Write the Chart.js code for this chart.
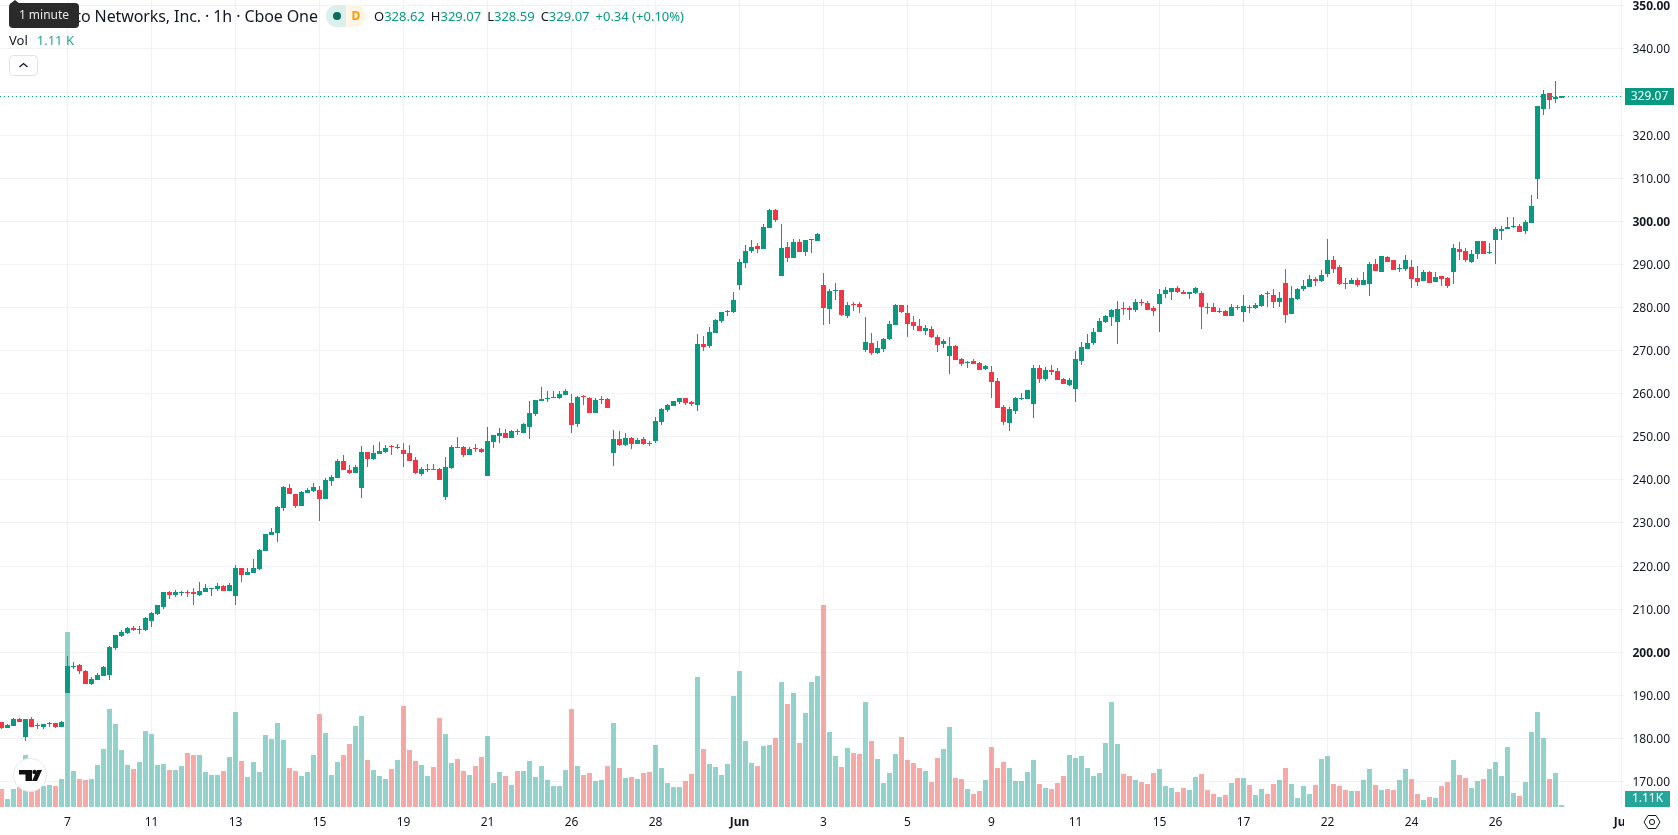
<!DOCTYPE html>
<html>
<head>
<meta charset="utf-8">
<title>Palo Alto Networks, Inc. 1h</title>
<script src="https://cdn.jsdelivr.net/npm/chart.js@4/dist/chart.umd.min.js"></script>
<style>
    html, body { margin: 0; padding: 0; background: #fff; }
    body { width: 1678px; height: 835px; overflow: hidden; position: relative; font-family: "Noto Sans", sans-serif; color: #131722; }
    canvas { position: absolute; left: 0; top: 0; }
    .abs { position: absolute; white-space: nowrap; }
    #title { left: 25px; top: 4px; font-size: 16px; line-height: 24px; letter-spacing: -0.1px; }
    #tooltip { left: 9px; top: 3px; width: 70px; height: 25px; line-height: 24px; background: #2a2a2a; color: #e8e8e8; font-size: 12px; text-align: center; border-radius: 4px; }
    #tooltip-arrow { left: 10px; top: 0; width: 0; height: 0; border-left: 5px solid transparent; border-right: 5px solid transparent; border-bottom: 4px solid #2a2a2a; }
    #ohlc { left: 374px; top: 6px; font-size: 13px; line-height: 20px; }
    #ohlc b { font-weight: 400; color: #089981; margin-right: 6px; }
    #vol { left: 9px; top: 30px; font-size: 13px; line-height: 20px; }
    #vol span { color: #26a69a; margin-left: 9px; }
    #pill-a { left: 326px; top: 5px; width: 20px; height: 22px; background: #daf0ec; border-radius: 11px 0 0 11px; }
    #pill-a i { position: absolute; left: 7px; top: 7px; width: 8px; height: 8px; border-radius: 50%; background: #0c6b5e; }
    #pill-d { left: 346px; top: 5px; width: 20px; height: 22px; line-height: 22px; background: #fff5e6; border-radius: 0 11px 11px 0; color: #ff9800; font-size: 12px; font-weight: 700; text-align: center; }
    #toggle { left: 9px; top: 55px; width: 27px; height: 19px; border: 1px solid #e0e3eb; border-radius: 4px; background: #fff; }
    #logo { left: 13px; top: 758px; width: 34px; height: 34px; }
    #corner { left: 1624px; top: 808px; width: 54px; height: 27px; background: #fff; }
</style>
</head>
<body>
<canvas id="myChart" width="1678" height="835"></canvas>

<div class="abs" id="title">Palo Alto Networks, Inc. · 1h · Cboe One</div>
<div class="abs" id="tooltip-arrow"></div>
<div class="abs" id="tooltip">1 minute</div>
<div class="abs" id="pill-a"><i></i></div>
<div class="abs" id="pill-d">D</div>
<div class="abs" id="ohlc">O<b>328.62</b>H<b>329.07</b>L<b>328.59</b>C<b>329.07</b><b>+0.34 (+0.10%)</b></div>
<div class="abs" id="vol">Vol<span>1.11 K</span></div>
<div class="abs" id="toggle">
    <svg width="27" height="19" viewBox="0 0 27 19"><path d="M9.5 11 L13.5 7.5 L17.5 11" fill="none" stroke="#131722" stroke-width="1.3"/></svg>
</div>
<svg class="abs" id="logo" viewBox="0 0 34 34">
    <circle cx="17" cy="17" r="16.5" fill="#fff" stroke="#e6e8ec"/>
    <path d="M6 12h13v11h-6.5v-6.5H6z" fill="#111"/>
    <circle cx="21.5" cy="14" r="2.2" fill="#111"/>
    <path d="M24 12h5l-5 11h-5z" fill="#111"/>
</svg>
<div class="abs" id="corner">
    <svg width="54" height="27" viewBox="0 0 54 27"><path d="M20 14 L24 7.5 H32 L36 14 L32 20.5 H24 Z" fill="none" stroke="#131722" stroke-width="1"/><circle cx="28" cy="14" r="2.6" fill="none" stroke="#131722" stroke-width="1"/></svg>
</div>

<script>
// hourly candles, oldest first
const opens = [
    183.8,182.5,183.0,184.45,180.4,184.5,183.2,182.7,183.5,183.5,
    182.7,190.6,196.6,197.0,195.7,192.65,193.6,194.5,194.75,201.0,
    203.8,204.5,205.6,205.2,205.2,207.3,208.9,210.5,214.0,213.3,
    213.8,214.0,214.0,213.3,214.0,214.7,214.7,215.4,214.2,213.1,
    219.6,217.9,218.4,219.3,223.5,227.2,227.7,233.5,238.1,236.7,
    233.9,236.95,237.4,237.6,235.55,239.75,240.4,244.35,242.3,241.6,
    238.1,246.45,244.8,246.0,246.45,247.8,247.4,246.9,246.2,244.6,
    241.35,242.3,242.5,242.5,236.0,242.75,247.6,247.6,245.75,247.4,
    247.15,240.9,248.8,250.15,250.85,249.7,251.3,250.85,252.25,255.3,
    258.3,258.75,259.0,259.0,259.7,257.8,253.0,259.45,259.0,255.5,
    258.5,258.75,246.2,249.5,248.1,249.7,248.3,249.4,248.65,248.95,
    253.45,256.2,257.15,258.05,259.0,258.05,257.4,271.5,271.05,274.1,
    276.85,278.95,278.95,285.2,290.3,293.1,294.3,293.55,298.45,302.6,
    287.3,294.05,291.5,295.2,292.85,295.65,295.45,285.2,279.65,283.8,
    284.05,278.0,280.8,280.8,270.15,271.8,269.45,270.35,272.7,275.95,
    280.6,278.7,276.65,275.7,274.55,275.0,273.15,271.5,268.75,271.05,
    268.05,267.1,267.6,267.1,265.7,265.05,262.95,256.9,253.2,256.0,
    258.8,258.8,257.6,265.95,263.4,265.5,265.3,263.4,262.05,261.1,
    267.6,270.35,271.75,274.3,276.65,277.8,276.65,279.9,279.9,279.4,
    281.3,281.05,279.9,280.8,283.15,283.6,284.5,283.6,283.15,283.35,
    283.35,280.1,280.1,278.95,279.2,278.0,280.1,278.95,280.1,279.9,
    280.35,283.3,282.9,281.3,285.7,278.5,282.0,284.3,284.75,286.6,
    286.15,287.75,291.0,289.4,285.7,285.45,286.4,285.2,285.45,290.1,
    288.2,291.7,291.0,288.95,288.95,289.4,286.85,286.15,288.2,285.9,
    287.3,286.85,288.2,293.55,293.1,290.55,292.4,295.4,292.6,295.65,
    297.75,298.2,298.65,298.9,297.75,299.6,309.8,326.05,329.75,328.35,
    328.62
];
const highs = [
    183.9,183.3,184.8,184.7,184.6,185.0,183.5,183.4,183.9,183.5,
    184.0,199.1,197.75,197.3,195.9,194.3,195.2,196.8,201.5,204.1,
    205.2,205.9,206.1,206.1,208.2,209.3,211.0,214.0,214.2,214.45,
    214.2,214.45,214.9,216.3,215.85,214.95,216.1,215.6,216.1,220.3,
    219.6,219.6,221.65,224.0,227.5,228.85,234.0,238.6,239.05,236.7,
    237.4,238.1,239.3,238.6,240.4,241.1,244.8,245.75,243.45,243.45,
    247.85,246.45,248.1,248.8,248.1,248.1,248.3,248.55,248.1,245.3,
    243.0,243.7,243.7,242.75,245.3,248.1,249.95,247.85,247.6,248.3,
    247.4,252.25,250.4,252.0,251.8,251.55,251.8,253.2,258.3,258.5,
    261.5,260.6,260.6,260.6,261.05,259.9,259.45,259.7,259.2,259.0,
    259.45,259.0,251.55,251.3,250.85,249.95,249.7,249.9,249.1,254.6,
    256.7,257.6,258.3,259.1,259.0,258.3,273.85,273.4,275.5,277.35,
    279.0,279.4,283.6,291.25,294.5,295.65,295.0,299.4,302.85,302.85,
    299.4,295.2,295.9,295.9,295.65,295.9,297.3,288.0,284.3,285.7,
    284.05,281.3,281.3,281.3,277.8,274.1,272.2,272.9,276.9,280.8,
    280.6,280.6,278.0,277.35,275.95,275.7,273.6,272.7,273.15,271.3,
    268.3,267.6,268.05,267.35,266.65,266.4,263.65,257.4,256.9,259.25,
    260.15,260.85,266.65,266.65,266.2,266.65,265.95,263.65,263.65,269.9,
    272.0,273.85,275.25,277.6,278.25,279.65,281.5,281.25,280.35,282.0,
    282.0,281.5,280.35,284.3,284.75,284.5,285.0,284.05,283.6,284.75,
    283.85,281.05,281.05,279.9,279.4,280.8,280.6,282.9,280.6,281.05,
    283.15,283.85,284.3,283.6,288.95,285.0,284.5,286.4,287.55,287.1,
    288.7,295.9,291.95,289.85,286.85,286.85,286.85,288.2,290.55,291.25,
    291.95,291.95,291.0,290.1,292.15,291.0,289.6,288.7,288.45,288.2,
    287.3,287.1,294.75,295.2,293.8,293.35,295.4,295.4,295.0,298.65,
    298.9,301.0,301.0,299.35,300.3,306.1,326.75,330.45,329.75,332.55,
    329.07
];
const lows = [
    182.2,182.5,182.9,183.8,179.5,182.6,182.2,182.2,182.7,182.4,
    182.7,190.6,196.1,195.0,192.6,192.4,193.6,194.5,193.6,200.5,
    203.5,204.2,205.0,204.2,205.0,205.9,208.7,210.0,212.4,212.85,
    213.05,212.85,211.0,213.05,214.0,213.05,214.2,214.2,214.2,211.0,
    216.3,217.9,218.4,219.1,223.5,227.2,225.6,232.8,236.7,233.5,
    233.9,236.95,237.2,230.45,235.55,238.6,240.4,242.3,241.35,241.6,
    235.8,243.0,244.6,246.0,246.2,245.75,247.15,243.0,244.35,241.35,
    240.9,241.8,242.3,240.0,235.3,242.5,247.4,245.3,245.75,246.45,
    246.2,240.9,247.4,248.55,249.7,249.7,250.4,250.85,249.5,254.8,
    258.3,258.05,259.0,258.75,259.7,250.85,252.25,257.35,255.5,255.5,
    257.6,256.65,243.2,247.85,247.85,247.15,248.3,248.0,247.95,248.65,
    252.75,255.75,257.15,257.6,257.4,257.15,256.0,269.9,270.6,274.1,
    276.4,278.0,278.7,284.05,289.2,292.65,292.65,293.55,298.45,299.85,
    287.3,290.55,291.5,292.85,291.95,292.65,295.45,275.95,276.2,281.75,
    278.0,277.55,279.2,278.7,269.65,269.0,269.2,269.65,272.45,275.95,
    278.7,273.15,274.75,274.55,273.6,272.9,269.65,270.6,264.55,267.8,
    266.4,266.0,266.9,265.5,265.5,259.0,256.7,252.75,251.35,255.3,
    258.55,258.8,254.4,262.5,262.95,264.35,263.2,262.25,261.8,258.05,
    266.65,270.35,271.3,274.3,276.4,275.7,271.55,278.25,277.1,278.95,
    280.35,279.4,278.0,274.3,282.2,281.75,283.35,283.15,282.0,283.15,
    275.0,278.5,278.95,278.7,278.0,278.0,279.4,276.65,278.7,279.65,
    280.1,280.1,279.9,280.1,276.4,278.5,281.75,283.85,284.75,285.0,
    285.9,287.1,288.0,285.2,284.3,285.45,284.75,285.2,282.65,288.45,
    288.2,290.55,288.7,288.2,288.45,284.5,285.0,286.15,285.7,285.9,
    285.0,284.5,285.45,291.0,290.55,290.3,291.25,292.4,292.4,290.1,
    295.65,298.2,298.45,297.5,297.05,299.6,305.15,324.65,326.05,327.45,
    328.59
];
const closes = [
    182.5,183.1,184.5,183.8,184.5,182.7,183.0,183.4,183.7,182.7,
    183.8,196.8,196.8,195.7,192.65,193.8,194.75,196.6,201.2,204.0,
    204.7,205.6,205.2,205.3,208.0,209.1,211.0,214.0,213.3,214.0,
    214.0,213.8,213.5,214.2,214.9,214.9,215.4,214.2,215.6,219.6,
    217.9,218.6,219.6,223.7,227.45,227.9,233.7,238.35,236.7,233.95,
    237.2,237.6,238.3,235.55,240.0,240.65,244.35,242.3,241.6,243.0,
    246.45,244.8,246.2,246.7,247.4,247.6,247.6,246.0,244.35,241.6,
    242.5,242.5,242.3,240.0,243.0,247.6,247.4,245.75,247.15,247.15,
    246.45,249.0,250.4,250.85,249.7,251.3,251.1,253.0,255.5,258.5,
    258.75,259.0,259.2,259.9,260.6,252.7,259.2,259.2,255.5,258.5,
    258.75,256.65,249.5,248.1,249.7,248.3,249.25,248.25,248.4,253.65,
    256.45,257.4,258.3,259.0,257.85,257.6,271.5,270.85,274.3,277.1,
    278.95,279.15,281.75,290.55,293.1,294.05,293.55,298.7,302.6,300.3,
    293.8,291.5,295.2,292.85,295.65,295.9,297.05,279.9,283.8,284.05,
    278.25,280.6,280.6,280.1,272.0,269.45,270.6,272.7,276.2,280.6,
    278.95,276.2,275.7,274.55,275.25,273.15,271.3,272.2,271.05,267.8,
    266.9,267.3,266.9,265.5,266.4,262.7,256.7,253.45,256.45,259.0,
    259.0,260.85,265.95,263.4,265.5,265.05,263.2,262.25,263.2,268.05,
    270.85,271.75,274.3,276.9,278.0,279.4,279.65,279.65,279.4,281.3,
    281.05,279.4,279.2,283.15,284.05,284.5,283.6,283.15,283.6,284.5,
    280.1,279.9,278.95,279.2,278.0,280.1,279.9,280.35,279.9,280.6,
    282.9,283.1,281.3,282.2,278.25,282.2,284.3,285.0,286.6,286.15,
    287.55,291.0,288.95,285.45,285.45,286.4,285.2,286.4,290.1,288.45,
    291.95,290.55,288.7,289.2,291.0,286.6,285.9,288.2,285.7,287.1,
    286.6,285.0,293.8,292.85,291.0,292.4,295.4,292.4,292.85,298.2,
    298.2,298.65,298.9,297.5,299.8,303.55,326.75,329.5,328.1,328.73,
    329.07
];
// volume in thousands
const volumes = [
    10.0,4.4,10.0,11.3,28.9,9.4,10.4,11.7,12.2,11.7,
    15.5,97.1,20.0,15.5,15.0,15.5,23.3,32.2,54.4,46.1,
    31.6,23.3,21.1,25.0,42.2,40.5,23.3,23.9,20.5,20.5,
    22.8,30.0,28.9,28.9,19.4,17.8,17.8,20.0,27.8,52.7,
    25.5,16.7,25.0,19.4,40.0,37.7,46.6,37.2,21.6,20.0,
    17.2,19.4,28.9,51.6,41.1,17.8,25.0,28.9,35.0,45.0,
    50.5,26.1,20.5,17.2,15.5,21.1,26.1,56.1,31.6,25.5,
    23.3,17.2,22.2,49.4,40.5,24.4,26.6,20.0,17.8,22.8,
    27.8,39.4,13.3,19.4,17.2,12.2,20.0,20.0,25.5,16.7,
    22.8,15.0,11.7,11.7,20.5,54.4,22.8,17.8,18.9,14.4,
    15.0,22.8,46.6,21.6,16.1,16.7,15.5,18.9,19.4,34.4,
    21.6,13.3,11.1,11.1,14.4,18.3,72.2,32.2,23.9,22.2,
    17.8,23.9,61.6,75.5,36.6,24.4,22.8,33.9,34.4,38.3,
    69.4,57.2,63.3,35.5,52.2,69.4,72.7,112.1,41.6,28.3,
    22.2,32.7,30.0,29.4,58.3,36.6,26.6,13.3,18.9,29.4,
    38.9,26.1,24.4,21.6,20.0,13.9,27.2,32.2,44.4,16.1,
    15.5,10.0,7.2,8.9,15.0,33.3,21.6,25.0,21.6,14.4,
    14.4,19.4,26.1,12.8,10.5,10.0,13.3,17.2,28.9,27.2,
    28.3,21.6,17.2,18.9,35.5,58.3,35.0,18.3,17.2,15.0,
    13.9,12.8,18.9,21.1,11.7,10.5,8.3,10.5,9.4,16.7,
    18.3,9.4,7.2,5.6,6.7,13.3,16.1,16.1,12.2,6.7,
    10.0,7.2,12.8,15.0,21.6,12.8,5.0,11.7,7.2,12.2,
    26.6,28.3,12.8,11.7,9.4,8.9,8.9,15.0,21.1,12.2,
    9.4,10.0,9.4,15.0,21.1,15.5,7.2,3.9,5.6,5.0,
    11.7,13.9,26.1,17.8,16.1,10.5,14.4,15.5,21.1,25.0,
    17.2,33.3,7.8,6.1,13.9,41.6,52.7,38.3,15.5,18.9,
    1.11
];

const dayTicks = [11, 25, 39, 53, 67, 81, 95, 109, 123, 137, 151, 165, 179, 193, 207, 221, 235, 249, 270];
const dayLabels = ['7', '11', '13', '15', '19', '21', '26', '28', 'Jun', '3', '5', '9', '11', '15', '17', '22', '24', '26', 'Jul'];
const monthLabels = ['Jun', 'Jul'];
const priceTicks = [170, 180, 190, 200, 210, 220, 230, 240, 250, 260, 270, 280, 290, 300, 310, 320, 330, 340, 350];
const boldPrices = [200, 300, 350];

const lastPrice = 329.07;
const lastVolume = 1.11;

const UP = '#089981';
const DOWN = '#F23645';
const UP_VOL = 'rgba(38, 166, 154, 0.5)';
const DOWN_VOL = 'rgba(239, 83, 80, 0.5)';
const GRID = '#f1f2f5';
const TEXT = '#131722';
const FONT = '"Noto Sans", sans-serif';

const isUp = opens.map((o, i) => closes[i] >= o);

// keeps candle edges on whole pixels so thin bodies stay 1px tall
const snapBars = {
    id: 'snapBars',
    beforeDatasetsDraw(chart) {
        chart.data.datasets.forEach((ds, d) => {
            const meta = chart.getDatasetMeta(d);
            if (ds.type === 'line') {
                meta.data.forEach((pt) => { pt.y = Math.floor(pt.y) + 0.5; });
                return;
            }
            meta.data.forEach((bar) => {
                bar.x = Math.floor(bar.x) + 0.5;
                bar.y = Math.round(bar.y);
                bar.base = Math.round(bar.base);
                if (bar.y === bar.base) bar.base += 1;
            });
        });
    }
};

// last price and last volume tags on the right axis
const axisTags = {
    id: 'axisTags',
    afterDraw(chart) {
        const ctx = chart.ctx;
        const priceY = Math.round(chart.scales.y.getPixelForValue(lastPrice));
        const volY = Math.min(chart.scales.vol.getPixelForValue(lastVolume), chart.chartArea.bottom - 8);
        ctx.save();
        ctx.font = '12px ' + FONT;
        ctx.textAlign = 'center';
        ctx.textBaseline = 'middle';
        ctx.fillStyle = UP;
        ctx.fillRect(1625, priceY - 8, 49, 17);
        ctx.fillStyle = '#fff';
        ctx.fillText(lastPrice.toFixed(2), 1649.5, priceY + 1);
        ctx.fillStyle = '#26a69a';
        ctx.fillRect(1625, volY - 8, 45, 16);
        ctx.fillStyle = '#fff';
        ctx.fillText(lastVolume.toFixed(2) + 'K', 1647.5, volY);
        ctx.restore();
    }
};

const ctx = document.getElementById('myChart').getContext('2d');
const myChart = new Chart(ctx, {
    type: 'bar',
    data: {
        datasets: [
            {
                type: 'line',
                data: [{ x: -0.25, y: lastPrice }, { x: 270, y: lastPrice }],
                borderColor: UP,
                borderWidth: 1,
                borderDash: [1, 3],
                pointRadius: 0,
                order: 0
            },
            {
                data: opens.map((o, i) => ({ x: i, y: [o, closes[i]] })),
                backgroundColor: isUp.map((up) => (up ? UP : DOWN)),
                barThickness: 5,
                order: 1
            },
            {
                data: lows.map((l, i) => ({ x: i, y: [l, highs[i]] })),
                backgroundColor: isUp.map((up) => (up ? UP : DOWN)),
                barThickness: 1,
                order: 2
            },
            {
                data: volumes.map((v, i) => ({ x: i, y: v })),
                backgroundColor: isUp.map((up) => (up ? UP_VOL : DOWN_VOL)),
                barThickness: 5,
                yAxisID: 'vol',
                order: 3
            }
        ]
    },
    options: {
        responsive: false,
        animation: false,
        events: [],
        layout: { padding: 0 },
        datasets: { bar: { grouped: false, borderWidth: 0, inflateAmount: 0 } },
        plugins: { legend: { display: false }, tooltip: { enabled: false } },
        scales: {
            x: {
                type: 'linear',
                offset: false,
                min: -0.25,
                max: 270,
                afterBuildTicks: (scale) => { scale.ticks = dayTicks.map((value) => ({ value })); },
                afterFit: (scale) => {
                    scale.height = 28;
                    scale.paddingLeft = 0;
                    scale.paddingRight = 0;
                },
                grid: { color: GRID, offset: false, drawTicks: false },
                border: { display: false },
                ticks: {
                    autoSkip: false,
                    maxRotation: 0,
                    padding: 8,
                    color: TEXT,
                    callback: (value) => dayLabels[dayTicks.indexOf(value)],
                    font: (c) => ({
                        family: FONT,
                        size: 12,
                        weight: monthLabels.includes(dayLabels[c.index]) ? '700' : '400'
                    })
                }
            },
            y: {
                position: 'right',
                min: 164.1,
                max: 351.35,
                afterBuildTicks: (scale) => { scale.ticks = priceTicks.map((value) => ({ value })); },
                afterFit: (scale) => {
                    scale.width = 56.5;
                    scale.paddingTop = 0;
                    scale.paddingBottom = 0;
                },
                grid: { color: GRID, drawTicks: true, tickLength: 3 },
                border: { color: GRID },
                ticks: {
                    autoSkip: false,
                    padding: 8,
                    labelOffset: 1,
                    color: TEXT,
                    // the last price tag takes the place of a label right next to it
                    callback: (value) => (Math.abs(value - lastPrice) < 2 ? '' : value.toFixed(2)),
                    font: (c) => ({
                        family: FONT,
                        size: 12,
                        weight: boldPrices.includes(priceTicks[c.index]) ? '700' : '400'
                    })
                }
            },
            vol: {
                display: false,
                min: 0,
                max: 448
            }
        }
    },
    plugins: [snapBars, axisTags]
});
</script>
</body>
</html>
